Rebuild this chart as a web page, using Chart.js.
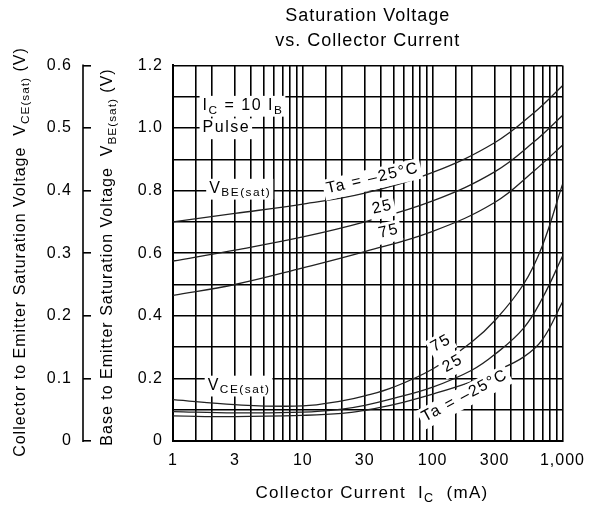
<!doctype html>
<html>
<head>
<meta charset="utf-8">
<title>Saturation Voltage vs. Collector Current</title>
<script src="https://cdn.jsdelivr.net/npm/chart.js"></script>
<style>html,body{margin:0;padding:0;background:#fff}</style>
</head>
<body>
<canvas id="chart" width="595" height="511"></canvas>
<script>
// collector current (mA) sampled for the VBE(sat) curves
const vbeCurrent = [1, 3, 10, 30, 100, 300, 600, 1000];
const vbeTaM25 = [0.700, 0.727, 0.757, 0.792, 0.858, 0.953, 1.048, 1.135];
const vbeTa25 = [0.575, 0.610, 0.652, 0.700, 0.767, 0.860, 0.955, 1.040];
const vbeTa75 = [0.465, 0.500, 0.553, 0.605, 0.670, 0.762, 0.862, 0.945];

// collector current (mA) sampled for the VCE(sat) curves
const vceCurrent = [1, 3, 10, 20, 30, 50, 100, 200, 300, 500, 700, 1000];
const vceTa75 = [0.066, 0.058, 0.056, 0.064, 0.072, 0.086, 0.115, 0.158, 0.192, 0.250, 0.312, 0.410];
const vceTa25 = [0.047, 0.045, 0.046, 0.051, 0.057, 0.068, 0.086, 0.113, 0.138, 0.180, 0.228, 0.295];
const vceTaM25 = [0.040, 0.039, 0.041, 0.044, 0.049, 0.058, 0.075, 0.095, 0.111, 0.134, 0.162, 0.222];

// x grid lines and which of them carry a label
const xGridValues = [1, 1.5, 2, 3, 4, 5, 6, 7, 8, 9,
  10, 15, 20, 30, 40, 50, 60, 70, 80, 90,
  100, 150, 200, 300, 400, 500, 600, 700, 800, 900, 1000];
const xTickLabels = { 1: '1', 3: '3', 10: '10', 30: '30', 100: '100', 300: '300', 1000: '1,000' };

const FAMILY = "'Liberation Sans', Arial, sans-serif";

// text placed inside / around the plot; x in mA, y in volts of the given axis
const notes = [
  { parts: [['I'], ['C', 1], [' = 10 I'], ['B', 1]], x: 1.69, y: 1.072, axis: 'yBE', align: 'left', rot: 0 },
  { parts: [['Pulse']], x: 1.69, y: 1.0, axis: 'yBE', align: 'left', rot: 0 },
  { parts: [['V'], ['BE(sat)', 1]], x: 1.9, y: 0.807, axis: 'yBE', align: 'left', rot: 0 },
  { parts: [['Ta = \u201325\u00b0C']], x: 34.5, y: 0.839, axis: 'yBE', align: 'center', rot: -13 },
  { parts: [['25']], x: 41, y: 0.747, axis: 'yBE', align: 'center', rot: -13 },
  { parts: [['75']], x: 46, y: 0.670, axis: 'yBE', align: 'center', rot: -13 },
  { parts: [['V'], ['CE(sat)', 1]], x: 1.85, y: 0.089, axis: 'yCE', align: 'left', rot: 0 },
  { parts: [['75']], x: 116, y: 0.156, axis: 'yCE', align: 'center', rot: -30 },
  { parts: [['25']], x: 143, y: 0.124, axis: 'yCE', align: 'center', rot: -30 },
  { parts: [['Ta = \u201325\u00b0C']], x: 177, y: 0.072, axis: 'yCE', align: 'center', rot: -28 }
];

function setFont(ctx, size) { ctx.font = size + 'px ' + FAMILY; }

function richWidth(ctx, parts, size) {
  let w = 0;
  parts.forEach(([t, sub]) => { setFont(ctx, sub ? size * 0.74 : size); w += ctx.measureText(t).width; });
  return w;
}

function drawRich(ctx, parts, x, y, size, align) {
  const w = richWidth(ctx, parts, size);
  let cx = align === 'center' ? x - w / 2 : x;
  ctx.textAlign = 'left';
  ctx.textBaseline = 'middle';
  parts.forEach(([t, sub]) => {
    setFont(ctx, sub ? size * 0.74 : size);
    ctx.fillText(t, cx, sub ? y + size * 0.3 : y);
    cx += ctx.measureText(t).width;
  });
  return w;
}

const spacing = {
  id: 'spacing',
  beforeLayout(chart) { chart.ctx.letterSpacing = '1px'; },
  beforeDraw(chart) { chart.ctx.letterSpacing = '1px'; }
};

const overlay = {
  id: 'overlay',
  afterDatasetsDraw(chart) {
    const { ctx, scales } = chart;
    ctx.save();
    ctx.letterSpacing = '1.5px';

    // outer VCE axis line, ticks point to the right of it
    const ce = scales.yCE;
    ctx.strokeStyle = '#000';
    ctx.lineWidth = 1.6;
    ctx.beginPath();
    ctx.moveTo(ce.right - 8, ce.top - 1);
    ctx.lineTo(ce.right - 8, ce.bottom + 1);
    ctx.stroke();

    // labels on the plot with a white patch behind them
    const size = 16;
    notes.forEach(n => {
      const px = scales.x.getPixelForValue(n.x);
      const py = scales[n.axis].getPixelForValue(n.y);
      const w = richWidth(ctx, n.parts, size);
      ctx.save();
      ctx.translate(px, py);
      ctx.rotate(n.rot * Math.PI / 180);
      const x0 = n.align === 'center' ? -w / 2 : 0;
      ctx.fillStyle = '#fff';
      ctx.fillRect(x0 - 3, -size * 0.6, w + 5, size * 1.3);
      ctx.fillStyle = '#000';
      drawRich(ctx, n.parts, x0, 0, size, 'left');
      ctx.restore();
    });

    // axis titles
    ctx.fillStyle = '#000';
    ctx.letterSpacing = '1px';
    ctx.save();
    ctx.translate(21, 252);
    ctx.rotate(-Math.PI / 2);
    drawRich(ctx, [['Collector to Emitter Saturation Voltage  V'], ['CE(sat)', 1], [' (V)']], 0, 0, 16, 'center');
    ctx.restore();

    ctx.save();
    ctx.translate(108, 257);
    ctx.rotate(-Math.PI / 2);
    drawRich(ctx, [['Base to Emitter Saturation Voltage  V'], ['BE(sat)', 1], [' (V)']], 0, 0, 16, 'center');
    ctx.restore();

    ctx.letterSpacing = '1.3px';
    drawRich(ctx, [['Collector Current  I'], ['C', 1], ['  (mA)']], 372, 493, 17, 'center');
    ctx.restore();
  }
};

function line(xs, ys, axis) {
  return {
    data: xs.map((x, i) => ({ x, y: ys[i] })),
    yAxisID: axis,
    borderColor: '#222',
    borderWidth: 1.3,
    pointRadius: 0,
    fill: false,
    tension: 0.4
  };
}

const tickFont = { family: FAMILY, size: 16 };

new Chart(document.getElementById('chart'), {
  type: 'line',
  data: {
    datasets: [
      line(vbeCurrent, vbeTaM25, 'yBE'),
      line(vbeCurrent, vbeTa25, 'yBE'),
      line(vbeCurrent, vbeTa75, 'yBE'),
      line(vceCurrent, vceTa75, 'yCE'),
      line(vceCurrent, vceTa25, 'yCE'),
      line(vceCurrent, vceTaM25, 'yCE')
    ]
  },
  options: {
    responsive: false,
    animation: false,
    devicePixelRatio: 1,
    layout: { padding: { left: 0, right: 28, top: 0, bottom: 0 } },
    plugins: {
      legend: { display: false },
      tooltip: { enabled: false },
      title: {
        display: true,
        fullSize: false,
        text: ['Saturation Voltage', 'vs. Collector Current'],
        color: '#000',
        font: { family: FAMILY, size: 18, weight: 'normal', lineHeight: 1.4 },
        padding: { top: 3, bottom: 12 }
      }
    },
    scales: {
      x: {
        type: 'logarithmic',
        min: 1,
        max: 1000,
        afterBuildTicks: s => { s.ticks = xGridValues.map(v => ({ value: v })); },
        afterFit: s => { s.height = 70; },
        ticks: {
          autoSkip: false,
          maxRotation: 0,
          padding: 10,
          color: '#000',
          font: tickFont,
          callback: v => xTickLabels[v] || ''
        },
        grid: { color: '#000', lineWidth: 1.6, drawTicks: false },
        border: { display: true, color: '#000', width: 2 }
      },
      yBE: {
        position: 'left',
        weight: 1,
        min: 0,
        max: 1.2,
        afterFit: s => { s.width = 82; },
        ticks: {
          stepSize: 0.1,
          padding: 10,
          color: '#000',
          font: tickFont,
          callback: v => {
            const k = Math.round(v * 10);
            if (k % 2) return '';
            return k === 0 ? '0' : (k / 10).toFixed(1);
          }
        },
        grid: { color: '#000', lineWidth: 1.6, drawTicks: false },
        border: { display: true, color: '#000', width: 2 }
      },
      yCE: {
        position: 'left',
        weight: 2,
        min: 0,
        max: 0.6,
        afterFit: s => { s.width = 91; },
        ticks: {
          stepSize: 0.1,
          padding: 11,
          color: '#000',
          font: tickFont,
          callback: v => {
            const k = Math.round(v * 10);
            return k === 0 ? '0' : (k / 10).toFixed(1);
          }
        },
        grid: { drawOnChartArea: false, color: '#000', lineWidth: 1.6, tickLength: 8 },
        border: { display: false }
      }
    }
  },
  plugins: [spacing, overlay]
});
</script>
</body>
</html>
